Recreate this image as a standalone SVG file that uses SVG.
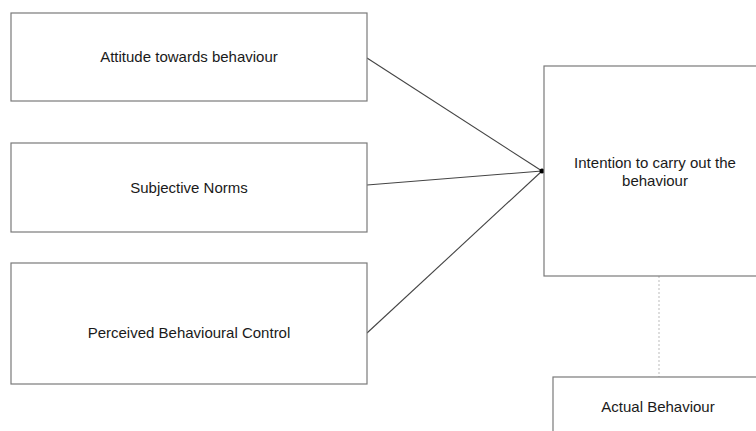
<svg xmlns="http://www.w3.org/2000/svg" width="756" height="431" viewBox="0 0 756 431">
<style>
.box{fill:#fff;stroke:#7a7a7a;stroke-width:1.2}
.lbl{font-family:"Liberation Sans",Arial,sans-serif;font-size:15px;fill:#1a1a1a;text-anchor:middle}
.edge{stroke:#444;stroke-width:1.1;fill:none}
.dot{stroke:#bbb;stroke-width:1;stroke-dasharray:2 2;fill:none}
</style>
<rect width="756" height="431" fill="#fff"/>
<g id="connectors">
<line class="edge" x1="367" y1="58" x2="542" y2="171"/>
<line class="edge" x1="367" y1="185" x2="542" y2="171"/>
<line class="edge" x1="367" y1="333" x2="542" y2="171"/>
<line class="dot" x1="659" y1="276" x2="659" y2="377"/>
<circle cx="542" cy="171" r="2.5" fill="#000"/>
</g>
<g id="attitude">
<rect class="box" x="11" y="13" width="356" height="88"/>
<text class="lbl" x="189" y="62">Attitude towards behaviour</text>
</g>
<g id="norms">
<rect class="box" x="11" y="143" width="356" height="89"/>
<text class="lbl" x="189" y="193">Subjective Norms</text>
</g>
<g id="control">
<rect class="box" x="11" y="263" width="356" height="121"/>
<text class="lbl" x="189" y="338">Perceived Behavioural Control</text>
</g>
<g id="intention">
<rect class="box" x="544" y="66" width="222" height="210"/>
<text class="lbl" x="655" y="168">Intention to carry out the</text>
<text class="lbl" x="655" y="186">behaviour</text>
</g>
<g id="actual">
<rect class="box" x="553" y="377" width="212" height="70"/>
<text class="lbl" x="658" y="412">Actual Behaviour</text>
</g>
</svg>
